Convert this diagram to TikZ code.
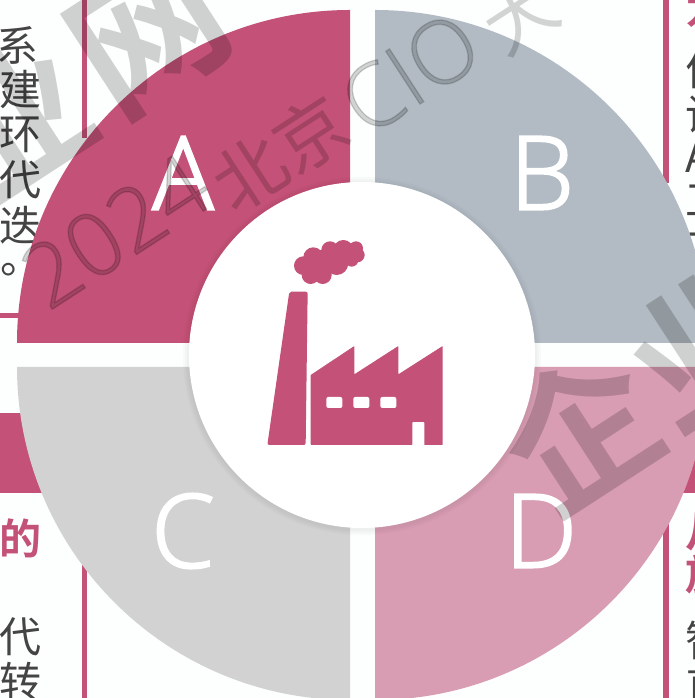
\documentclass[tikz,border=0pt]{standalone}
\usepackage{fontspec}
\setmainfont{Open Sans Light}[FakeBold=2.2]
\newfontfamily\cjk{Noto Sans CJK SC}
\newfontfamily\cjkb{Noto Sans CJK SC Bold}
\newfontfamily\wmlat{Open Sans Light}[FakeBold=1.5]
\definecolor{rose}{HTML}{C45177}
\definecolor{slateq}{HTML}{B2BBC3}
\definecolor{greyq}{HTML}{D2D2D2}
\definecolor{pinkq}{HTML}{D99DB3}
\definecolor{bodytxt}{HTML}{444444}
\definecolor{pagebg}{HTML}{FDFEFE}
\tikzset{
  body/.style={font=\cjk\fontsize{42}{42}\selectfont,text=bodytxt,inner sep=0pt,anchor=center},
  head/.style={font=\cjkb\fontsize{42}{42}\selectfont,text=rose,inner sep=0pt,anchor=center},
  letter/.style={font=\fontsize{102}{102}\selectfont,text=white,inner sep=0pt,anchor=center},
  rule/.style={fill=rose},
  wmbig/.style={font=\cjkb\fontsize{150}{150}\selectfont,text=black,opacity=.18,rotate=33,inner sep=0pt,anchor=center},
  wmthin/.style={font=\cjk\fontsize{72}{72}\selectfont,text=black,opacity=.17,rotate=33,inner sep=0pt,anchor=center},
  wmlatin/.style={font=\wmlat\fontsize{88}{88}\selectfont,text=black,opacity=.17,rotate=33,inner sep=0pt,anchor=center},
}
\begin{document}
\begin{tikzpicture}[x=1pt,y=1pt]
\useasboundingbox (0,0) rectangle (695,698);
\clip (0,0) rectangle (695,698);
\fill[pagebg] (0,0) rectangle (695,698);
% background page parts
\fill[rule] (82,560) rectangle (87,698);
\fill[rule] (82,0) rectangle (87,135);
\fill[rule] (663,515) rectangle (669,698);
\fill[rule] (663,0) rectangle (669,175);
\fill[rule] (0,380) rectangle (20,385);
\fill[rule] (0,205) rectangle (60,285);
\fill[rule] (640,205) rectangle (695,285);
% column text
\node[body] (l1) at (18,653) {系};
\node[body] (l2) at (-18,608) {构};
\node[body] (l3) at (20,608) {建};
\node[body] (l4) at (-18,563) {闭};
\node[body] (l5) at (20,563) {环};
\node[body] (l6) at (20,518) {代};
\node[body] (l7) at (-18,473) {速};
\node[body] (l8) at (20,473) {迭};
\node[body] (l9) at (-18,428) {务};
\node[body] (l10) at (21,428) {。};
\node[head] (l11) at (20,160) {的};
\node[head] (l12) at (-20,160) {务};
\node[body] (l13) at (20,61) {代};
\node[body] (l14) at (-20,61) {析};
\node[body] (l15) at (20,16) {转};
\node[body] (l16) at (-20,16) {若};
\node[head] (r1) at (706,690) {为};
\node[body] (r2) at (706,628) {何};
\node[body] (r3) at (706,583) {设};
\node[body,anchor=west] (r4) at (685,541) {A};
\node[body] (r5) at (706,498) {工};
\node[body] (r6) at (706,450) {工};
\node[head] (r7) at (706,166) {从};
\node[head] (r8) at (706,123) {放};
\node[body] (r9) at (706,58) {智};
\node[body] (r10) at (706,12) {直};
% quadrants
\fill[rose] (350,355) -- (17,355) arc[start angle=180,end angle=90,radius=333] -- cycle;
\fill[slateq] (375,355) -- (708,355) arc[start angle=0,end angle=90,radius=333] -- cycle;
\fill[greyq] (350,331) -- (17,331) arc[start angle=180,end angle=270,radius=333] -- cycle;
\fill[pinkq] (375,331) -- (708,331) arc[start angle=0,end angle=-90,radius=333] -- cycle;
\node[letter] (A) at (183,525) {A};
\node[letter] (B) at (542,525) {B};
\node[letter] (C) at (183,167) {C};
\node[letter] (D) at (541,167) {D};
% watermarks
\node[wmbig] (w1) at (12,578) {业};
\node[wmbig] (w2) at (150,663) {网};
\node[wmbig] (w3) at (580,268) {企};
\node[wmbig] (w4) at (706,352) {业};
\node[wmlatin,anchor=base west] (w5) at (48,386) {2024};
\node[wmthin] (w6) at (280,545) {北京};
\node[wmlatin] (w7) at (410,625) {CIO};
\node[wmthin] (w8) at (520,683) {大};
% centre disc
\foreach \rr in {179,177,175} \fill[black,opacity=.02] (362,342) circle[radius=\rr];
\node[circle,fill=white,minimum size=346pt,inner sep=0pt] (hub) at (362,343) {};
% factory icon
\begin{scope}[shift={(250,468)},xscale=1/3,yscale=-1/3]
\fill[rose,rounded corners=2pt] (118,185) -- (173,185) -- (167,645) -- (52,645) -- cycle;
\fill[rose,rounded corners=.6pt]
  (182,435) -- (313,348) -- (313,433) -- (445,348) -- (445,433) -- (578,348) -- (578,645)
  -- (523,645) -- (523,576) -- (487,576) -- (487,645) -- (182,645) -- cycle;
\foreach \wx in {229,310,391}
  \fill[white,rounded corners=2pt] (\wx,501) rectangle ++(48,33);
\foreach \cx/\cy/\cr in {160/107/28,190/82/30,182/135/27,218/135/27,240/60/26,280/60/30,318/55/21,322/75/22,305/90/20,260/100/35,215/100/40}
  \fill[rose] (\cx,\cy) circle[radius=\cr];
\end{scope}
\end{tikzpicture}
\end{document}
